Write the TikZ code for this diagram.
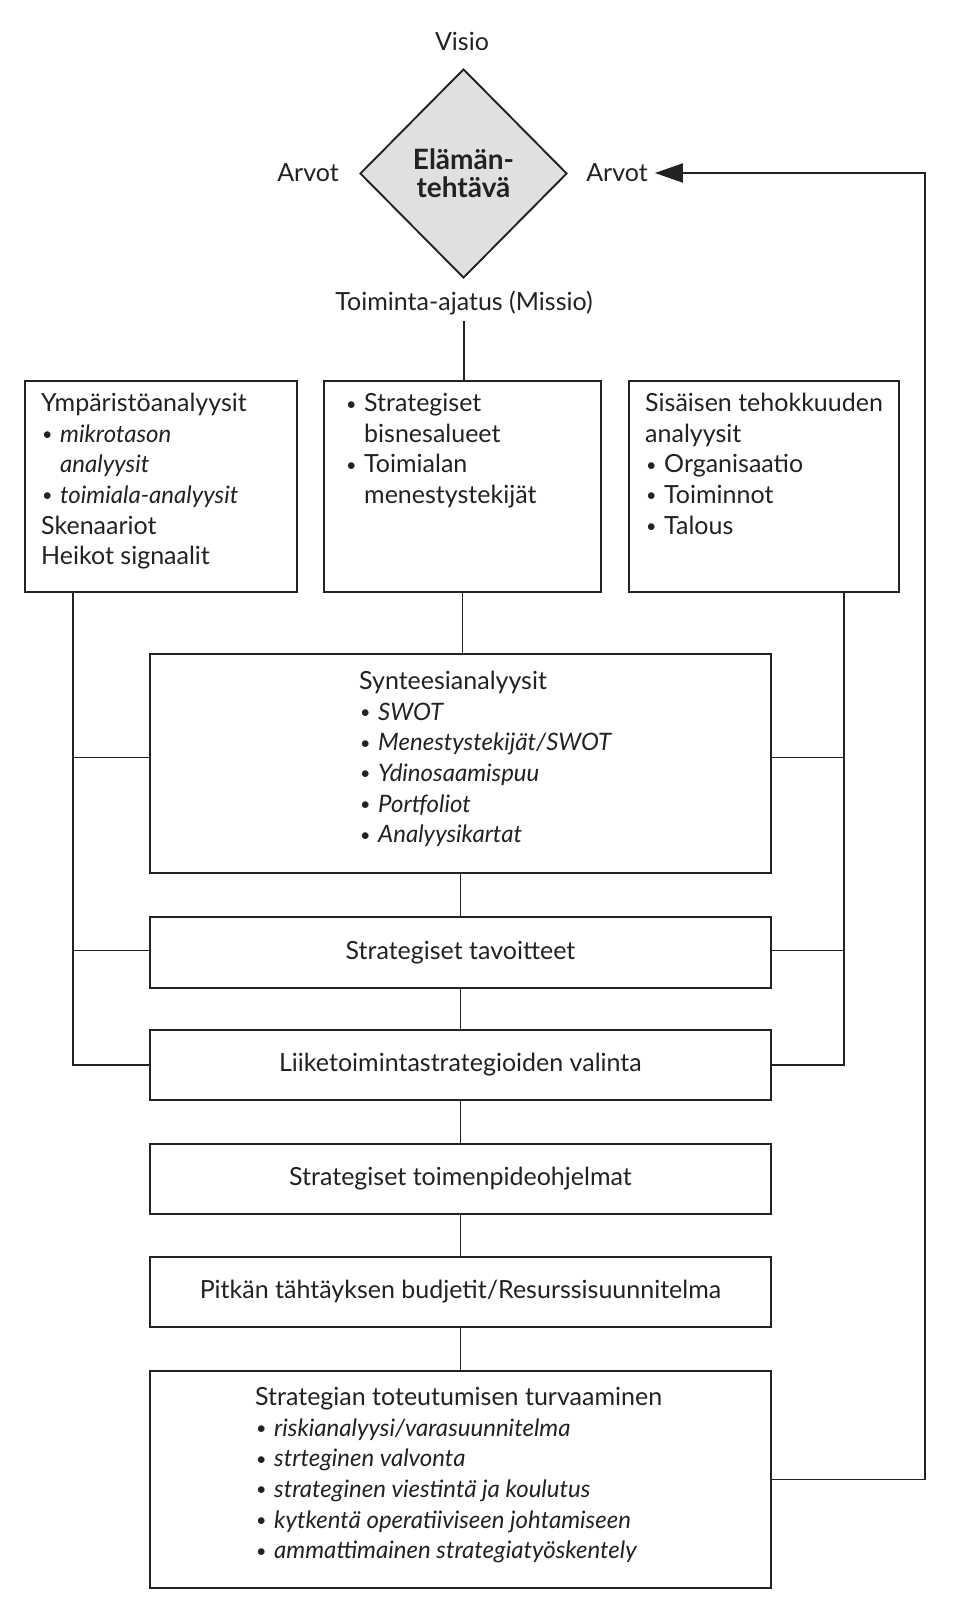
\documentclass[tikz,border=0pt]{standalone}
\usepackage{fontspec}
\setmainfont{Lato}
\usetikzlibrary{shapes.geometric,arrows.meta}
\definecolor{ink}{HTML}{222222}
\definecolor{dfill}{HTML}{E2DFE2}
\newcommand{\mybul}{\makebox[19pt][l]{\hspace{1pt}\raisebox{1.5pt}{\fontsize{18}{18}\selectfont\textbullet}}}
\newcommand{\myind}{\hspace*{19pt}}
\newcommand{\myit}[1]{{\fontsize{24}{30.6}\selectfont\itshape #1}}
\begin{document}
\begin{tikzpicture}[x=1pt,y=-1pt,
  every node/.style={text=ink},
  boxstyle/.style={draw=ink,line width=1.9pt,rectangle,inner sep=0pt,anchor=north west,fill=white},
  conn/.style={draw=ink,line width=1.9pt},
  txt/.style={inner sep=0pt,anchor=north west,font=\fontsize{25}{30.6}\selectfont},
  lbl/.style={font=\fontsize{25}{28}\selectfont,inner sep=0pt},
  stepbox/.style={boxstyle,minimum width=621pt,minimum height=70pt},
]
\useasboundingbox[fill=white] (0,0) rectangle (957,1600);

% top labels and diamond
\node[lbl] (visio) at (462,41) {Visio};
\node[draw=ink,line width=1.9pt,fill=dfill,diamond,minimum width=207pt,minimum height=209pt,inner sep=0pt,
      align=center,font=\fontsize{28}{28}\selectfont\bfseries] (elama) at (463.5,173.5) {Elämän-\\tehtävä};
\node[lbl] (arvotL) at (308,173) {Arvot};
\node[lbl] (arvotR) at (617,173) {Arvot};
\node[lbl,inner sep=6pt] (missio) at (464,303) {Toiminta-ajatus (Missio)};

% top row boxes
\node[boxstyle,minimum width=272pt,minimum height=211pt] (envbox) at (24,380) {};
\node[boxstyle,minimum width=277pt,minimum height=211pt] (strbox) at (323,380) {};
\node[boxstyle,minimum width=270pt,minimum height=211pt] (intbox) at (628,380) {};

\node[txt] (envtxt) at (41,390) {\begin{tabular}{@{}l@{}}
Ympäristöanalyysit\\
\mybul\myit{mikrotason}\\
\myind\myit{analyysit}\\
\mybul\myit{toimiala-analyysit}\\
Skenaariot\\
Heikot signaalit
\end{tabular}};
\node[txt] (strtxt) at (345,390) {\begin{tabular}{@{}l@{}}
\mybul Strategiset\\
\myind bisnesalueet\\
\mybul Toimialan\\
\myind menestystekijät
\end{tabular}};
\node[txt] (inttxt) at (645,390) {\begin{tabular}{@{}l@{}}
Sisäisen tehokkuuden\\
analyysit\\
\mybul Organisaatio\\
\mybul Toiminnot\\
\mybul Talous
\end{tabular}};

% synthesis box
\node[boxstyle,minimum width=621pt,minimum height=219pt] (synth) at (149,653) {};
\node[txt] (syntxt) at (359,668) {\begin{tabular}{@{}l@{}}
Synteesianalyysit\\
\mybul\myit{SWOT}\\
\mybul\myit{Menestystekijät/SWOT}\\
\mybul\myit{Ydinosaamispuu}\\
\mybul\myit{Portfoliot}\\
\mybul\myit{Analyysikartat}
\end{tabular}};

% stacked boxes
\node[stepbox,minimum height=71pt] (tav) at (149,916) {};
\node[lbl] (tavtxt) at (tav.center) {Strategiset tavoitteet};
\node[stepbox] (valinta) at (149,1029) {};
\node[lbl] (valtxt) at (valinta.center) {Liiketoimintastrategioiden valinta};
\node[stepbox] (ohjelmat) at (149,1143) {};
\node[lbl] (ohjtxt) at (ohjelmat.center) {Strategiset toimenpideohjelmat};
\node[stepbox] (budjetit) at (149,1256) {};
\node[lbl] (budtxt) at (budjetit.center) {Pitkän tähtäyksen budjetit/Resurssisuunnitelma};

\node[boxstyle,minimum width=621pt,minimum height=217pt] (turva) at (149,1370) {};
\node[txt] (turtxt) at (255,1384) {\begin{tabular}{@{}l@{}}
Strategian toteutumisen turvaaminen\\
\mybul\myit{riskianalyysi/varasuunnitelma}\\
\mybul\myit{strteginen valvonta}\\
\mybul\myit{strateginen viestintä ja koulutus}\\
\mybul\myit{kytkentä operatiiviseen johtamiseen}\\
\mybul\myit{ammattimainen strategiatyöskentely}
\end{tabular}};

% helper coordinates for vertical rails
\coordinate (lx) at (73,0);
\coordinate (rx) at (844,0);
\coordinate (fx) at (925,0);

% central connectors
\draw[conn] (missio.south) -- (missio.south |- strbox.north);
\draw[conn] (strbox.south) -- (strbox.south |- synth.north);
\draw[conn] (synth.south -| tav.north) -- (tav.north);
\draw[conn] (tav.south) -- (valinta.north);
\draw[conn] (valinta.south) -- (ohjelmat.north);
\draw[conn] (ohjelmat.south) -- (budjetit.north);
\draw[conn] (budjetit.south) -- (turva.north);

% left rail
\draw[conn] (envbox.south -| lx) |- (valinta.west);
\draw[conn] ([yshift=6pt]synth.west) -- ([yshift=6pt]synth.west -| lx);
\draw[conn] ([yshift=2pt]tav.west) -- ([yshift=2pt]tav.west -| lx);

% right rail
\draw[conn] (intbox.south -| rx) |- (valinta.east);
\draw[conn] ([yshift=6pt]synth.east) -- ([yshift=6pt]synth.east -| rx);
\draw[conn] ([yshift=2pt]tav.east) -- ([yshift=2pt]tav.east -| rx);

% feedback arrow
\draw[conn,-{Triangle[length=28pt,width=19pt]}] (turva.east) -- (turva.east -| fx) -- (fx |- arvotR.east) -- ([xshift=7pt]arvotR.east);
\end{tikzpicture}
\end{document}
